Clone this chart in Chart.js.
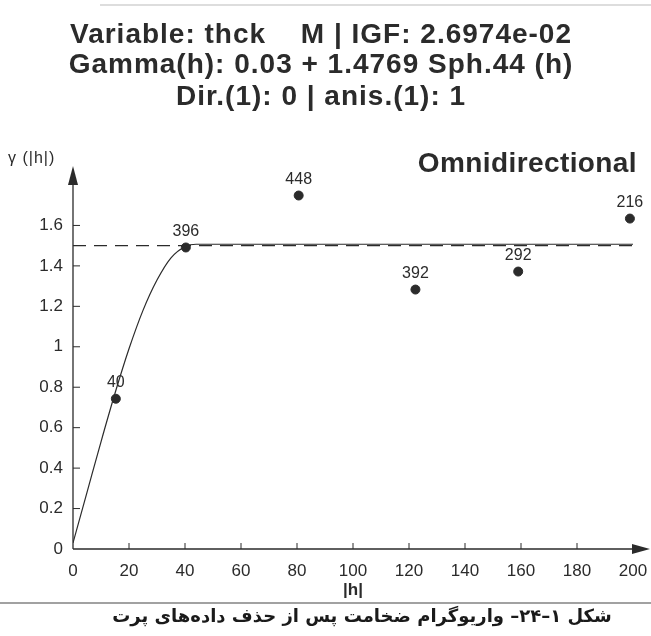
<!DOCTYPE html>
<html>
<head>
<meta charset="utf-8">
<script src="https://cdn.jsdelivr.net/npm/chart.js@4.4.1/dist/chart.umd.min.js"></script>
<style>
  html, body { margin: 0; padding: 0; background: #fff; }
</style>
</head>
<body>
<canvas id="variogram" width="651" height="636"></canvas>
<script>
// experimental variogram: lag |h|, gamma, number of pairs
const lags = [15.3, 40.3, 80.6, 122.3, 159, 198.9];
const gammaVals = [0.743, 1.491, 1.748, 1.283, 1.372, 1.634];
const pairCounts = [40, 396, 448, 392, 292, 216];

// fitted spherical model
const modelLags = [0, 5, 10, 15, 20, 25, 30, 35, 40, 44, 200];
const modelVals = [0.03, 0.28, 0.53, 0.77, 0.99, 1.18, 1.33, 1.44, 1.495, 1.507, 1.507];

// sample variance (dashed line)
const sillLags = [0, 200];
const sillVals = [1.5, 1.5];

const xTicks = [0, 20, 40, 60, 80, 100, 120, 140, 160, 180, 200];
const yTicks = [0, 0.2, 0.4, 0.6, 0.8, 1, 1.2, 1.4, 1.6];

const titleLeft = 'Variable: thck';
const titleRight = 'M | IGF: 2.6974e-02';
const titleLine2 = 'Gamma(h): 0.03 + 1.4769 Sph.44 (h)';
const titleLine3 = 'Dir.(1): 0 | anis.(1): 1';
const caption = 'شکل ۱\u200F–۲۴\u200F– واریوگرام ضخامت پس از حذف داده‌های پرت';

const ink = '#2b2b2b';
const sans = "'Liberation Sans', Arial, sans-serif";

const toXY = (xs, ys) => xs.map((x, i) => ({ x: x, y: ys[i] }));

const decorations = {
    id: 'decorations',
    afterDraw(chart) {
        const { ctx, chartArea: a, scales: { x, y } } = chart;
        ctx.save();
        ctx.strokeStyle = ink;
        ctx.fillStyle = ink;
        ctx.lineWidth = 1.3;

        // axes with arrow heads
        ctx.beginPath();
        ctx.moveTo(a.left, a.bottom); ctx.lineTo(640, a.bottom);
        ctx.moveTo(a.left, a.bottom); ctx.lineTo(a.left, 175);
        ctx.stroke();
        ctx.beginPath();
        ctx.moveTo(650, a.bottom); ctx.lineTo(632, a.bottom - 5); ctx.lineTo(632, a.bottom + 5); ctx.closePath();
        ctx.fill();
        ctx.beginPath();
        ctx.moveTo(a.left, 166); ctx.lineTo(a.left - 5, 185); ctx.lineTo(a.left + 5, 185); ctx.closePath();
        ctx.fill();

        // small inner tick marks
        ctx.lineWidth = 1;
        ctx.beginPath();
        xTicks.slice(1, -1).forEach(v => {
            const px = x.getPixelForValue(v);
            ctx.moveTo(px, a.bottom); ctx.lineTo(px, a.bottom - 6);
        });
        yTicks.slice(1).forEach(v => {
            const py = y.getPixelForValue(v);
            ctx.moveTo(a.left, py); ctx.lineTo(a.left + 7, py);
        });
        ctx.stroke();

        // number of pairs above each point
        ctx.font = '16px ' + sans;
        ctx.textAlign = 'center';
        ctx.textBaseline = 'middle';
        lags.forEach((h, i) => {
            ctx.fillText(String(pairCounts[i]), x.getPixelForValue(h), y.getPixelForValue(gammaVals[i]) - 16);
        });

        // header text
        ctx.textBaseline = 'alphabetic';
        ctx.font = 'bold 28px ' + sans;
        ctx.letterSpacing = '1px';
        ctx.textAlign = 'left';
        ctx.fillText(titleLeft, 70, 43);
        ctx.textAlign = 'right';
        ctx.fillText(titleRight, 572, 43);
        ctx.textAlign = 'center';
        ctx.fillText(titleLine2, 321, 73);
        ctx.fillText(titleLine3, 321, 105);
        ctx.letterSpacing = '0.4px';
        ctx.textAlign = 'right';
        ctx.fillText('Omnidirectional', 637, 172);
        ctx.letterSpacing = '1px';

        ctx.font = '16px ' + sans;
        ctx.textAlign = 'left';
        ctx.fillText('γ (|h|)', 8, 163);
        ctx.letterSpacing = '0px';

        ctx.font = 'bold 17px ' + sans;
        ctx.textAlign = 'center';
        ctx.fillText('|h|', x.getPixelForValue(100), 595);

        // caption with rule above
        ctx.strokeStyle = '#444';
        ctx.lineWidth = 1.2;
        ctx.beginPath();
        ctx.moveTo(0, 603); ctx.lineTo(651, 603);
        ctx.stroke();
        ctx.strokeStyle = '#bbb';
        ctx.beginPath();
        ctx.moveTo(100, 5); ctx.lineTo(651, 5);
        ctx.stroke();

        ctx.direction = 'rtl';
        ctx.font = "bold 18px 'DejaVu Sans', sans-serif";
        ctx.textAlign = 'center';
        ctx.fillStyle = '#1a1a1a';
        ctx.fillText(caption, 362, 622);
        ctx.restore();
    }
};

const chart = new Chart(document.getElementById('variogram'), {
    type: 'scatter',
    data: {
        datasets: [
            {
                label: 'gamma',
                data: toXY(lags, gammaVals),
                pointRadius: 4.5,
                pointBackgroundColor: ink,
                pointBorderColor: ink,
                clip: false
            },
            {
                label: 'model',
                type: 'line',
                data: toXY(modelLags, modelVals),
                borderColor: ink,
                borderWidth: 1.2,
                pointRadius: 0,
                cubicInterpolationMode: 'monotone',
                fill: false
            },
            {
                label: 'variance',
                type: 'line',
                data: toXY(sillLags, sillVals),
                borderColor: ink,
                borderWidth: 1.2,
                borderDash: [13, 8],
                pointRadius: 0,
                fill: false
            }
        ]
    },
    options: {
        responsive: false,
        animation: false,
        layout: {
            padding: { top: 185, right: 18, left: 0, bottom: 0 }
        },
        plugins: {
            legend: { display: false },
            tooltip: { enabled: false }
        },
        scales: {
            x: {
                type: 'linear',
                min: 0,
                max: 200,
                afterBuildTicks: s => { s.ticks = xTicks.map(v => ({ value: v })); },
                afterFit: s => { s.height = 87; s.paddingLeft = 0; s.paddingRight = 0; },
                grid: { display: false, drawTicks: false },
                border: { display: false },
                ticks: {
                    autoSkip: false,
                    maxRotation: 0,
                    padding: 12,
                    color: ink,
                    font: { size: 17, family: sans },
                    callback: v => String(v)
                }
            },
            y: {
                min: 0,
                max: 1.8,
                afterBuildTicks: s => { s.ticks = yTicks.map(v => ({ value: v })); },
                afterFit: s => { s.width = 73; },
                grid: { display: false, drawTicks: false },
                border: { display: false },
                ticks: {
                    padding: 10,
                    color: ink,
                    font: { size: 17, family: sans },
                    callback: v => String(v)
                }
            }
        }
    },
    plugins: [decorations]
});
</script>
</body>
</html>
